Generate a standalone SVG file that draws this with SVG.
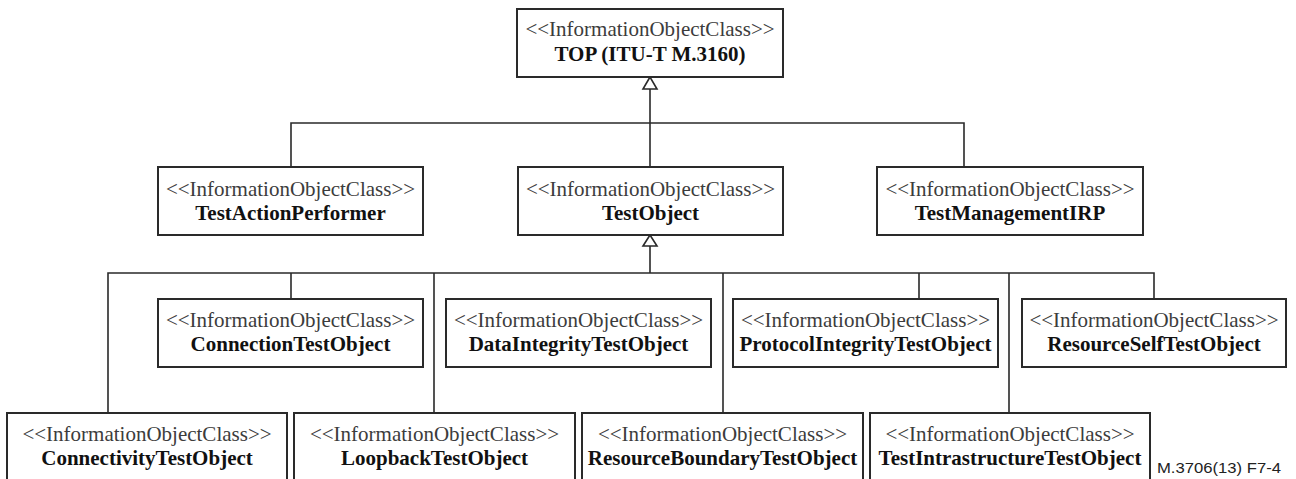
<svg xmlns="http://www.w3.org/2000/svg" width="1296" height="479" viewBox="0 0 1296 479">
<style>
.box{fill:#fff;stroke:#2a2a2a;stroke-width:2}
.st{font-family:"Liberation Serif","Times New Roman",serif;font-size:21px;fill:#3c3c3c;text-anchor:middle}
.nm{font-family:"Liberation Serif","Times New Roman",serif;font-size:21px;font-weight:bold;fill:#111;text-anchor:middle}
.ln{stroke:#2a2a2a;stroke-width:1.6;fill:none}
.tri{fill:#fff;stroke:#2a2a2a;stroke-width:1.6}
.ft{font-family:"Liberation Sans",Arial,sans-serif;font-size:14px;fill:#222}
</style>
<rect width="1296" height="479" fill="#fff"/>
<g id="connectors">
<path class="ln" d="M650 89V167M291 167V123H964V167"/>
<polygon class="tri" points="650,77 643,89 657,89"/>
<path class="ln" d="M650 246V273M108 413V273H1154V299M291 273V299M434 273V413M723 273V413M919 273V299M1009 273V413"/>
<polygon class="tri" points="650,235 643,246 657,246"/>
</g>
<g id="top"><rect class="box" x="517" y="9" width="266" height="68"/><text class="st" x="650" y="36">&lt;&lt;InformationObjectClass&gt;&gt;</text><text class="nm" x="650" y="61">TOP (ITU-T M.3160)</text></g>
<g id="testActionPerformer"><rect class="box" x="158" y="167" width="265" height="68"/><text class="st" x="290.5" y="196">&lt;&lt;InformationObjectClass&gt;&gt;</text><text class="nm" x="290.5" y="220">TestActionPerformer</text></g>
<g id="testObject"><rect class="box" x="518" y="167" width="265" height="68"/><text class="st" x="650.5" y="196">&lt;&lt;InformationObjectClass&gt;&gt;</text><text class="nm" x="650.5" y="220">TestObject</text></g>
<g id="testManagementIRP"><rect class="box" x="877" y="167" width="266" height="68"/><text class="st" x="1010" y="196">&lt;&lt;InformationObjectClass&gt;&gt;</text><text class="nm" x="1010" y="220">TestManagementIRP</text></g>
<g id="connectionTestObject"><rect class="box" x="158" y="299" width="265" height="68"/><text class="st" x="290.5" y="327">&lt;&lt;InformationObjectClass&gt;&gt;</text><text class="nm" x="290.5" y="351">ConnectionTestObject</text></g>
<g id="dataIntegrityTestObject"><rect class="box" x="446" y="299" width="265" height="68"/><text class="st" x="578.5" y="327">&lt;&lt;InformationObjectClass&gt;&gt;</text><text class="nm" x="578.5" y="351">DataIntegrityTestObject</text></g>
<g id="protocolIntegrityTestObject"><rect class="box" x="733" y="299" width="265" height="68"/><text class="st" x="865.5" y="327">&lt;&lt;InformationObjectClass&gt;&gt;</text><text class="nm" x="865.5" y="351">ProtocolIntegrityTestObject</text></g>
<g id="resourceSelfTestObject"><rect class="box" x="1022" y="299" width="264" height="68"/><text class="st" x="1154" y="327">&lt;&lt;InformationObjectClass&gt;&gt;</text><text class="nm" x="1154" y="351">ResourceSelfTestObject</text></g>
<g id="connectivityTestObject"><rect class="box" x="7" y="413" width="280" height="72"/><text class="st" x="147" y="441">&lt;&lt;InformationObjectClass&gt;&gt;</text><text class="nm" x="147" y="465">ConnectivityTestObject</text></g>
<g id="loopbackTestObject"><rect class="box" x="294" y="413" width="281" height="72"/><text class="st" x="434.5" y="441">&lt;&lt;InformationObjectClass&gt;&gt;</text><text class="nm" x="434.5" y="465">LoopbackTestObject</text></g>
<g id="resourceBoundaryTestObject"><rect class="box" x="582" y="413" width="281" height="72"/><text class="st" x="722.5" y="441">&lt;&lt;InformationObjectClass&gt;&gt;</text><text class="nm" x="722.5" y="465">ResourceBoundaryTestObject</text></g>
<g id="testIntrastructureTestObject"><rect class="box" x="870" y="413" width="280" height="72"/><text class="st" x="1010" y="441">&lt;&lt;InformationObjectClass&gt;&gt;</text><text class="nm" x="1010" y="465">TestIntrastructureTestObject</text></g>
<text class="ft" x="1157" y="473" textLength="124" lengthAdjust="spacingAndGlyphs">M.3706(13)  F7-4</text>
</svg>
